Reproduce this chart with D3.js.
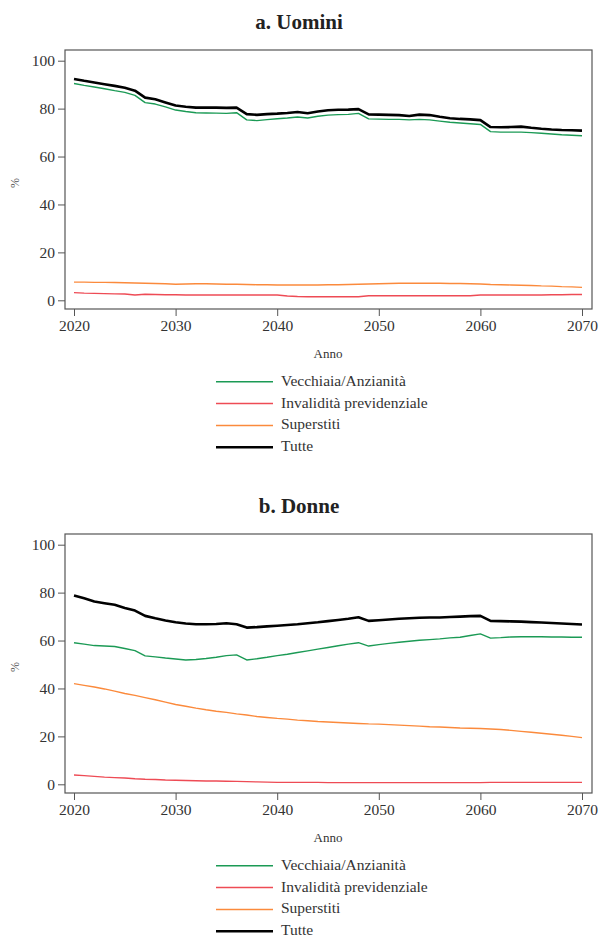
<!DOCTYPE html>
<html>
<head>
<meta charset="utf-8">
<script src="https://cdn.jsdelivr.net/npm/d3@7"></script>
<style>
  body { margin: 0; background: #fff; }
</style>
</head>
<body>
<div id="container"></div>
<script>
const years = d3.range(2020, 2071);
const seriesNames = ["Vecchiaia/Anzianità", "Invalidità previdenziale", "Superstiti", "Tutte"];
const colors = ["#1b9a55", "#ee4b55", "#fb8a3c", "#000000"];
const widths = [1.4, 1.4, 1.4, 2.6];
const yTicks = [0, 20, 40, 60, 80, 100];
const xTicks = [2020, 2030, 2040, 2050, 2060, 2070];
const titles = ["a. Uomini", "b. Donne"];
const serif = "'Liberation Serif', 'Times New Roman', 'DejaVu Serif', serif";

// Uomini
const uVecchiaia = [90.5, 89.7, 89.0, 88.3, 87.5, 86.8, 85.5, 82.5, 81.9, 80.7, 79.4, 78.8, 78.3, 78.2, 78.1, 78.0, 78.3, 75.3, 75.0, 75.4, 75.8, 76.1, 76.5, 76.1, 76.8, 77.3, 77.5, 77.6, 78.0, 75.7, 75.6, 75.5, 75.5, 75.3, 75.5, 75.3, 74.8, 74.3, 74.0, 73.7, 73.4, 70.4, 70.2, 70.2, 70.2, 70.0, 69.7, 69.4, 69.1, 68.9, 68.7];
const uInvalidita = [3.2, 3.0, 2.9, 2.8, 2.7, 2.6, 2.2, 2.5, 2.4, 2.3, 2.3, 2.2, 2.2, 2.2, 2.2, 2.2, 2.2, 2.2, 2.2, 2.2, 2.2, 1.8, 1.6, 1.5, 1.5, 1.5, 1.5, 1.5, 1.5, 1.9, 1.9, 1.9, 1.9, 1.9, 1.9, 1.9, 1.9, 1.9, 1.9, 1.9, 2.2, 2.2, 2.2, 2.2, 2.2, 2.2, 2.2, 2.3, 2.3, 2.4, 2.4];
const uSuperstiti = [7.6, 7.6, 7.5, 7.5, 7.4, 7.3, 7.2, 7.1, 7.0, 6.9, 6.7, 6.8, 6.9, 6.9, 6.8, 6.7, 6.7, 6.6, 6.5, 6.5, 6.4, 6.4, 6.4, 6.4, 6.4, 6.5, 6.5, 6.6, 6.7, 6.8, 6.9, 7.0, 7.1, 7.1, 7.1, 7.1, 7.1, 7.0, 7.0, 6.9, 6.8, 6.6, 6.5, 6.4, 6.3, 6.2, 6.0, 5.9, 5.7, 5.6, 5.4];
const uTutte = [92.4, 91.6, 90.9, 90.2, 89.5, 88.7, 87.5, 84.6, 83.9, 82.6, 81.3, 80.8, 80.4, 80.4, 80.4, 80.3, 80.4, 77.7, 77.4, 77.7, 77.9, 78.2, 78.6, 78.1, 78.8, 79.3, 79.5, 79.6, 79.8, 77.6, 77.5, 77.4, 77.3, 76.9, 77.5, 77.3, 76.6, 76.0, 75.7, 75.5, 75.2, 72.3, 72.2, 72.3, 72.5, 72.0, 71.6, 71.3, 71.1, 71.0, 70.8];

// Donne
const dVecchiaia = [59.1, 58.5, 57.9, 57.7, 57.5, 56.7, 55.8, 53.6, 53.2, 52.7, 52.3, 51.9, 52.1, 52.5, 53.0, 53.7, 54.0, 51.9, 52.4, 53.0, 53.7, 54.3, 55.0, 55.7, 56.4, 57.1, 57.8, 58.5, 59.1, 57.7, 58.3, 58.8, 59.3, 59.7, 60.1, 60.4, 60.7, 61.1, 61.4, 62.1, 62.8, 61.0, 61.2, 61.5, 61.6, 61.6, 61.6, 61.5, 61.5, 61.4, 61.4];
const dInvalidita = [3.9, 3.6, 3.3, 3.0, 2.8, 2.6, 2.3, 2.1, 2.0, 1.8, 1.7, 1.6, 1.5, 1.4, 1.4, 1.3, 1.2, 1.1, 1.0, 0.9, 0.8, 0.8, 0.8, 0.8, 0.8, 0.7, 0.7, 0.7, 0.7, 0.7, 0.7, 0.7, 0.7, 0.7, 0.7, 0.7, 0.7, 0.7, 0.7, 0.7, 0.7, 0.8, 0.8, 0.8, 0.8, 0.8, 0.8, 0.8, 0.8, 0.8, 0.8];
const dSuperstiti = [42.0, 41.3, 40.6, 39.8, 38.9, 37.9, 37.1, 36.2, 35.3, 34.3, 33.3, 32.6, 31.8, 31.1, 30.5, 30.0, 29.4, 28.9, 28.3, 27.9, 27.5, 27.2, 26.8, 26.5, 26.2, 26.0, 25.8, 25.6, 25.4, 25.2, 25.1, 24.9, 24.7, 24.5, 24.3, 24.0, 23.9, 23.7, 23.5, 23.4, 23.3, 23.1, 22.9, 22.5, 22.1, 21.7, 21.3, 20.9, 20.5, 20.0, 19.5];
const dTutte = [78.8, 77.6, 76.3, 75.6, 74.9, 73.6, 72.5, 70.3, 69.3, 68.4, 67.6, 67.1, 66.8, 66.8, 66.9, 67.2, 66.8, 65.4, 65.6, 65.9, 66.2, 66.5, 66.8, 67.2, 67.6, 68.1, 68.6, 69.1, 69.7, 68.2, 68.5, 68.8, 69.1, 69.3, 69.5, 69.6, 69.6, 69.8, 70.0, 70.2, 70.3, 68.2, 68.1, 68.0, 67.9, 67.7, 67.5, 67.3, 67.1, 66.9, 66.7];

const width = 599, height = 937;
const frame = { left: 65, right: 592, top: 50, bottom: 309 };
const panelOffset = 484;

const svg = d3.create("svg")
    .attr("width", width)
    .attr("height", height)
    .attr("font-family", serif);

const x = d3.scaleLinear()
    .domain([2020, 2070])
    .range([74, 582]);

const y = d3.scaleLinear()
    .domain([0, 100])
    .range([300.3, 60.7]);

function drawPanel(title, data, dy) {
    const g = svg.append("g").attr("transform", `translate(0,${dy})`);

    g.append("text")
        .attr("x", 299).attr("y", 29)
        .attr("text-anchor", "middle")
        .attr("font-family", serif)
        .attr("font-size", 21).attr("font-weight", "bold")
        .attr("fill", "#222")
        .text(title);

    g.append("rect")
        .attr("x", frame.left).attr("y", frame.top)
        .attr("width", frame.right - frame.left)
        .attr("height", frame.bottom - frame.top)
        .attr("fill", "#fff")
        .attr("stroke", "#555").attr("stroke-width", 1.2);

    // y axis
    const ya = g.append("g")
        .attr("transform", `translate(${frame.left},0)`)
        .call(d3.axisLeft(y).tickValues(yTicks).tickSize(7).tickPadding(3))
        .attr("font-family", serif).attr("font-size", 15.5);
    ya.select(".domain").remove();
    ya.selectAll("line").attr("stroke", "#555");
    ya.selectAll("text").attr("fill", "#333");

    // x axis
    const xa = g.append("g")
        .attr("transform", `translate(0,${frame.bottom})`)
        .call(d3.axisBottom(x).tickValues(xTicks).tickFormat(d3.format("d")).tickSize(7).tickPadding(4))
        .attr("font-family", serif).attr("font-size", 15.5);
    xa.select(".domain").remove();
    xa.selectAll("line").attr("stroke", "#555");
    xa.selectAll("text").attr("fill", "#333");

    g.append("text")
        .attr("transform", `translate(19,183) rotate(-90)`)
        .attr("text-anchor", "middle")
        .attr("font-family", serif)
        .attr("font-size", 12).attr("fill", "#555")
        .text("%");

    g.append("text")
        .attr("x", 328).attr("y", 358)
        .attr("text-anchor", "middle")
        .attr("font-family", serif)
        .attr("font-size", 13).attr("fill", "#333")
        .text("Anno");

    const line = d3.line()
        .x((d, i) => x(years[i]))
        .y(d => y(d));

    data.forEach((s, i) => {
        g.append("path")
            .datum(s)
            .attr("fill", "none")
            .attr("stroke", colors[i])
            .attr("stroke-width", widths[i])
            .attr("stroke-linejoin", "round")
            .attr("d", line);
    });

    // legend
    const legY = d3.scaleLinear().domain([0, 3]).range([381.7, 447.3]);
    seriesNames.forEach((name, i) => {
        g.append("line")
            .attr("x1", 216).attr("x2", 273)
            .attr("y1", legY(i)).attr("y2", legY(i))
            .attr("stroke", colors[i])
            .attr("stroke-width", i === 3 ? 2.4 : 1.4);
        g.append("text")
            .attr("x", 281).attr("y", legY(i) + 4)
            .attr("font-family", serif)
            .attr("font-size", 15.5).attr("fill", "#333")
            .text(name);
    });
}

drawPanel(titles[0], [uVecchiaia, uInvalidita, uSuperstiti, uTutte], 0);
drawPanel(titles[1], [dVecchiaia, dInvalidita, dSuperstiti, dTutte], panelOffset);

container.append(svg.node());
</script>
</body>
</html>
